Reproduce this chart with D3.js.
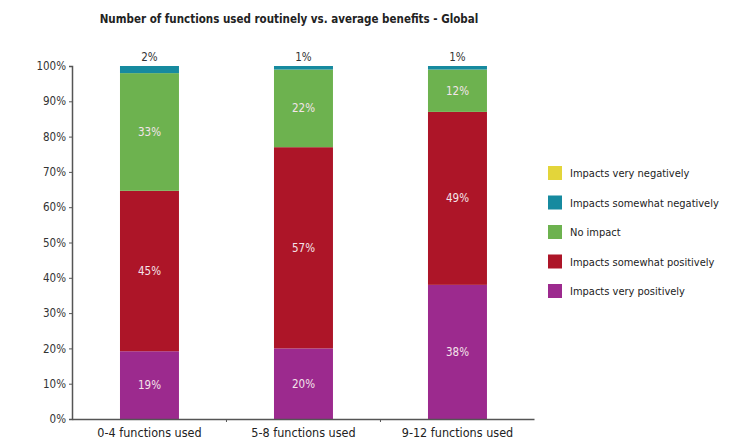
<html>
<script src="https://d3js.org/d3.v7.min.js"></script>
<style>
  body { margin: 0; background: #fff; }
  text { font-family: "DejaVu Sans Condensed", "Liberation Sans Narrow", sans-serif; font-stretch: condensed; }
</style>
<body>
</body>
<script>
    // data
    let categories = ["0-4 functions used", "5-8 functions used", "9-12 functions used"];
    let seriesNames = ["Impacts very positively", "Impacts somewhat positively", "No impact", "Impacts somewhat negatively", "Impacts very negatively"];
    let veryPositive = [19, 20, 38];
    let somewhatPositive = [45, 57, 49];
    let noImpact = [33, 22, 12];
    let somewhatNegative = [2, 1, 1];
    let veryNegative = [0, 0, 0];
    let yTicks = [0, 10, 20, 30, 40, 50, 60, 70, 80, 90, 100];
    let colors = ["#9c2a8e", "#ad1528", "#6db24f", "#168a9f", "#e3d53a"];

    let width = 753, height = 440;
    let font = "DejaVu Sans Condensed, sans-serif";

    let svg = d3.select("body").append("svg")
        .attr("width", width)
        .attr("height", height);

    let table = categories.map((c, i) => ({
        cat: c,
        "Impacts very positively": veryPositive[i],
        "Impacts somewhat positively": somewhatPositive[i],
        "No impact": noImpact[i],
        "Impacts somewhat negatively": somewhatNegative[i],
        "Impacts very negatively": veryNegative[i]
    }));

    let stack = d3.stack().keys(seriesNames).offset(d3.stackOffsetExpand);
    let layers = stack(table);

    let x = d3.scaleBand()
        .domain(categories)
        .range([72, 534])
        .paddingInner(0.617)
        .paddingOuter(0.3085)
        .align(0.505);

    let y = d3.scaleLinear()
        .domain([0, 1])
        .range([419, 66]);

    let color = d3.scaleOrdinal().domain(seriesNames).range(colors);

    // title
    svg.append("text")
        .attr("x", 289)
        .attr("y", 23)
        .attr("text-anchor", "middle")
        .attr("font-size", 11.5)
        .attr("font-weight", "bold")
        .attr("fill", "#222")
        .text("Number of functions used routinely vs. average benefits - Global");

    // bars
    let g = svg.append("g");
    layers.forEach(layer => {
        g.selectAll(null)
            .data(layer)
            .enter().append("rect")
            .attr("x", d => x(d.data.cat))
            .attr("width", x.bandwidth())
            .attr("y", d => y(d[1]))
            .attr("height", d => y(d[0]) - y(d[1]))
            .attr("fill", color(layer.key));
    });

    // labels inside bars
    layers.forEach(layer => {
        if (layer.key == "Impacts somewhat negatively" || layer.key == "Impacts very negatively") return;
        g.selectAll(null)
            .data(layer)
            .enter().append("text")
            .attr("x", d => x(d.data.cat) + x.bandwidth() / 2)
            .attr("y", d => (y(d[0]) + y(d[1])) / 2 + 4)
            .attr("text-anchor", "middle")
            .attr("font-size", 11.5)
            .attr("fill", "#f4e4ea")
            .text(d => d.data[layer.key] + "%");
    });

    // labels above bars
    g.selectAll(null)
        .data(table)
        .enter().append("text")
        .attr("x", d => x(d.cat) + x.bandwidth() / 2)
        .attr("y", 61)
        .attr("text-anchor", "middle")
        .attr("font-size", 11.5)
        .attr("fill", "#333")
        .text(d => d["Impacts somewhat negatively"] + "%");

    // y axis
    let yAxis = d3.axisLeft(d3.scaleLinear().domain([0, 100]).range([419, 66]))
        .tickValues(yTicks)
        .tickSize(3)
        .tickPadding(3)
        .tickFormat(d => d + "%");
    let ya = svg.append("g")
        .attr("transform", "translate(72,0)")
        .call(yAxis);
    ya.select(".domain").attr("stroke", "#555").attr("stroke-width", 1.5);
    ya.selectAll(".tick line").attr("stroke", "#555");
    ya.selectAll(".tick text")
        .attr("font-family", font)
        .attr("font-size", 11.5)
        .attr("fill", "#333");

    // x axis
    let xa = svg.append("g")
        .attr("transform", "translate(0,419)")
        .call(d3.axisBottom(x).tickSize(0).tickPadding(9));
    xa.select(".domain").attr("stroke", "#555").attr("stroke-width", 1.5);
    xa.selectAll(".tick text")
        .attr("font-family", font)
        .attr("font-size", 12.5)
        .attr("fill", "#222");
    // small separators between categories
    let seps = categories.slice(1).map((c, i) => (x(categories[i]) + x.bandwidth() + x(c)) / 2);
    xa.selectAll(null)
        .data(seps)
        .enter().append("line")
        .attr("x1", d => d).attr("x2", d => d)
        .attr("y1", 0).attr("y2", 3)
        .attr("stroke", "#555");

    // legend
    let legendOrder = seriesNames.slice().reverse();
    let legend = svg.append("g").attr("transform", "translate(548,166)");
    legendOrder.forEach((name, i) => {
        let row = legend.append("g").attr("transform", "translate(0," + (i * 29.5) + ")");
        row.append("rect")
            .attr("width", 14)
            .attr("height", 14)
            .attr("fill", color(name));
        row.append("text")
            .attr("x", 22)
            .attr("y", 11)
            .attr("font-size", 11)
            .attr("fill", "#222")
            .text(name);
    });
</script>
</html>
